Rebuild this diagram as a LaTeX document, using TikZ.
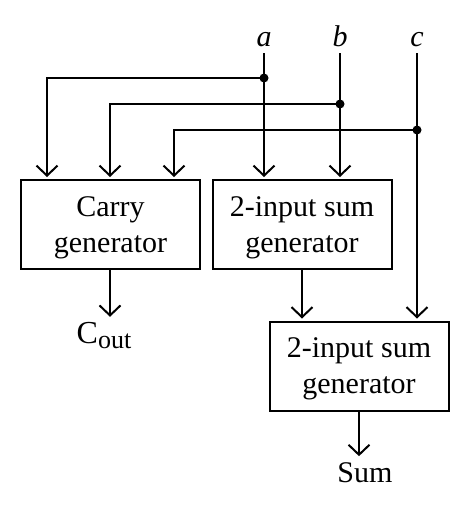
\documentclass[tikz,border=0pt]{standalone}
\usepackage{fontspec}
\setmainfont{Liberation Serif}
\usetikzlibrary{arrows.meta,calc}
\newcommand{\firststrut}{\rule{0pt}{26pt}}
\begin{document}
\begin{tikzpicture}[x=1pt,y=-1pt,line width=2pt,
  blk/.style={draw,minimum width=179pt,minimum height=89pt,inner sep=0pt,align=center,font=\fontsize{30}{36}\selectfont},
  lbl/.style={inner sep=0pt,font=\fontsize{30}{36}\selectfont},
  arr/.style={-{Straight Barb[length=10pt,width=21pt]},shorten >=2pt},
  jdot/.style={circle,fill,inner sep=0pt,minimum size=9pt}]
\useasboundingbox (0,0) rectangle (470,512);
% blocks
\node[blk] (cg) at (110.5,224.5) {\firststrut Carry\\generator};
\node[blk] (s1) at (302,224.5) {\firststrut 2-input sum\\generator};
\node[blk] (s2) at (359,366) {\firststrut 2-input sum\\generator};
% labels
\node[lbl,anchor=base,font=\fontsize{30}{36}\selectfont\itshape] (la) at (264,46) {a};
\node[lbl,anchor=base,font=\fontsize{30}{36}\selectfont\itshape] (lb) at (340,46) {b};
\node[lbl,anchor=base,font=\fontsize{30}{36}\selectfont\itshape] (lc) at (417,46) {c};
\node[lbl,anchor=base] (cout) at (104,343) {{\fontsize{32}{36}\selectfont C}\raisebox{-5pt}{\fontsize{26}{26}\selectfont out}};
\node[lbl,anchor=base] (sum) at (365,482) {Sum};
% coordinates
\coordinate (aT) at (264,53);
\coordinate (bT) at (340,53);
\coordinate (cT) at (417,53);
\coordinate (ja) at (264,78);
\coordinate (jb) at (340,104);
\coordinate (jc) at (417,130);
\coordinate (xa) at (47,0);
\coordinate (xb) at (110,0);
\coordinate (xc) at (174,0);
% input lines
\draw (aT) -- (ja);
\draw (bT) -- (jb);
\draw (cT) -- (jc);
\draw[arr] (ja) -- (s1.north -| ja);
\draw[arr] (jb) -- (s1.north -| jb);
\draw[arr] (jc) -- (s2.north -| jc);
\draw[arr] (ja) -| (cg.north -| xa);
\draw[arr] (jb) -| (cg.north -| xb);
\draw[arr] (jc) -| (cg.north -| xc);
% outputs
\draw[arr] (cg.south -| xb) -- ($(cout.north -| xb)+(0,-2)$);
\draw[arr] (s1.south) -- (s1.south |- s2.north);
\draw[arr] (s2.south) -- ($(s2.south |- sum.north)+(0,-3)$);
% junction dots
\node[jdot] at (ja) {};
\node[jdot] at (jb) {};
\node[jdot] at (jc) {};
\end{tikzpicture}
\end{document}
